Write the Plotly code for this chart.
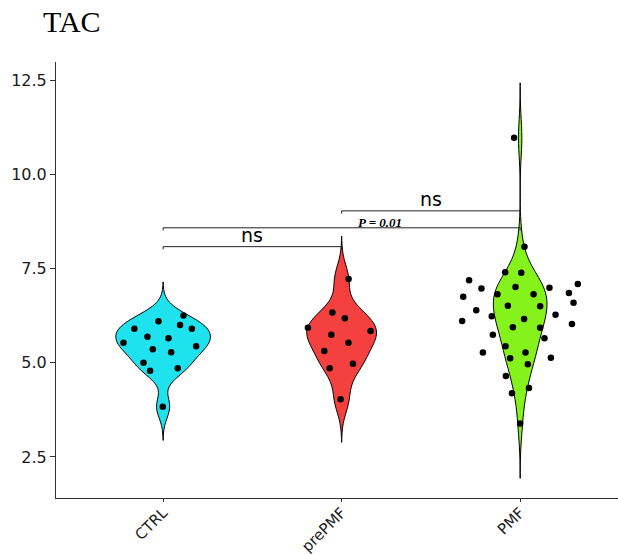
import numpy as np
import plotly.graph_objects as go

# ---------------- data ----------------
categories = ["CTRL", "prePMF", "PMF"]

ctrl_values = [6.25, 6.10, 6.00, 5.90, 5.90, 5.69, 5.65, 5.53, 5.36, 5.28,
               5.44, 5.00, 4.79, 4.85, 3.83]
ctrl_jitter = [0.114, -0.026, 0.095, -0.161, 0.161, -0.088, 0.030, -0.222,
               -0.058, 0.045, 0.185, -0.110, -0.073, 0.082, -0.002]

prepmf_values = [7.22, 6.33, 6.18, 5.93, 5.84, 5.74, 5.53, 5.31, 4.97, 4.85, 4.03]
prepmf_jitter = [0.039, -0.052, 0.018, -0.189, 0.162, -0.058, 0.038, -0.097,
                 0.063, -0.067, -0.006]

pmf_values = [8.08, 7.40, 7.39, 7.19, 7.09, 6.97, 7.01, 6.99, 6.85, 6.75,
              6.82, 6.82, 6.59, 6.51, 6.50, 6.39, 6.27, 6.23, 6.16, 6.11,
              6.03, 5.94, 5.93, 5.74, 5.65, 5.44, 5.27, 5.27, 5.12, 5.13,
              4.96, 4.65, 4.33, 4.19, 3.39, 10.97]
pmf_jitter = [0.024, -0.084, 0.006, -0.286, 0.323, -0.217, -0.026, 0.164,
              0.273, -0.319, -0.127, 0.075, 0.299, -0.069, 0.112, -0.246,
              0.198, -0.159, 0.022, -0.325, 0.290, -0.041, 0.112, -0.153,
              0.136, -0.082, -0.209, 0.030, -0.056, 0.172, 0.043, -0.080,
              0.049, -0.046, 0.000, -0.034]

group_values = [ctrl_values, prepmf_values, pmf_values]
group_jitter = [ctrl_jitter, prepmf_jitter, pmf_jitter]

# significance brackets: (group a, group b, height, label)
comparisons = [("CTRL", "prePMF", 8.08, "ns"),
               ("CTRL", "PMF", 8.58, ""),
               ("prePMF", "PMF", 9.03, "ns")]
p_label = "P = 0.01"
p_label_pos = (1.215, 8.73)

y_ticks = [2.5, 5.0, 7.5, 10.0, 12.5]

# ---------------- styles ----------------
fill_colors = ["#1EE3EF", "#F4403F", "#86F21C"]
violin_widths = [0.53, 0.39, 0.30]
SANS = "DejaVu Sans, Arial, sans-serif"
SERIF = "Liberation Serif, Times New Roman, serif"


def nrd0(v):
    v = np.asarray(v, dtype=float)
    sd = np.std(v, ddof=1)
    q1, q3 = np.percentile(v, [25, 75])
    lo = min(sd, (q3 - q1) / 1.34)
    if lo <= 0:
        lo = sd
    return 0.9 * lo * len(v) ** (-0.2)


fig = go.Figure()

for i, (vals, col, w) in enumerate(zip(group_values, fill_colors, violin_widths)):
    bw = nrd0(vals)
    fig.add_trace(go.Violin(
        x0=i, y=vals, width=w, scalemode="width",
        bandwidth=bw, spanmode="manual",
        span=[min(vals) - 3 * bw, max(vals) + 3 * bw],
        fillcolor=col, opacity=1,
        line=dict(color="black", width=1),
        points=False, box_visible=False, meanline_visible=False,
        hoverinfo="skip", showlegend=False, name=categories[i],
    ))

for i, (vals, jit) in enumerate(zip(group_values, group_jitter)):
    fig.add_trace(go.Scatter(
        x=[i + j for j in jit], y=vals, mode="markers",
        marker=dict(color="black", size=6.5, line=dict(width=0)),
        hoverinfo="skip", showlegend=False,
    ))

tip = 0.07
for a, b, h, lab in comparisons:
    xa, xb = categories.index(a), categories.index(b)
    fig.add_shape(type="path",
                  path=f"M {xa},{h - tip} L {xa},{h} L {xb},{h} L {xb},{h - tip}",
                  line=dict(color="#222222", width=1), layer="above")
    if lab:
        fig.add_annotation(x=(xa + xb) / 2, y=h, text=lab, showarrow=False,
                           yanchor="bottom", yshift=-1,
                           font=dict(family=SANS, size=19, color="black"))

fig.add_annotation(x=p_label_pos[0], y=p_label_pos[1],
                   text=f"<b><i>{p_label}</i></b>", showarrow=False,
                   font=dict(family=SERIF, size=13, color="black"))

W, H = 618, 554
fig.update_layout(
    width=W, height=H,
    margin=dict(l=56, r=0, t=62, b=56, autoexpand=False),
    paper_bgcolor="white", plot_bgcolor="white",
    title=dict(text="TAC", x=43 / W, xanchor="left", xref="container",
               y=1 - 21.5 / H, yanchor="middle", yref="container",
               font=dict(family=SERIF, size=30, color="black")),
    violinmode="overlay",
)
fig.update_xaxes(range=[-0.6, 2.548], tickvals=[0, 1, 2], ticktext=categories,
                 tickangle=-45, showline=True, linecolor="#333333", linewidth=1,
                 ticks="outside", ticklen=3, tickcolor="#333333",
                 ticklabelstandoff=-4,
                 showgrid=False, zeroline=False, automargin=False,
                 tickfont=dict(family=SANS, size=15, color="#1a1a1a"))
fig.update_yaxes(range=[1.41, 12.98], tickvals=y_ticks,
                 ticktext=[f"{t:.1f}" for t in y_ticks],
                 showline=True, linecolor="#333333", linewidth=1,
                 ticks="outside", ticklen=5, tickcolor="#333333",
                 showgrid=False, zeroline=False, automargin=False,
                 tickfont=dict(family=SANS, size=16, color="#1a1a1a"))

fig.write_html(
    "out.html",
    config={"displayModeBar": False},
    post_script="document.body.style.margin='0px';"
                "document.body.style.overflow='hidden';",
)
